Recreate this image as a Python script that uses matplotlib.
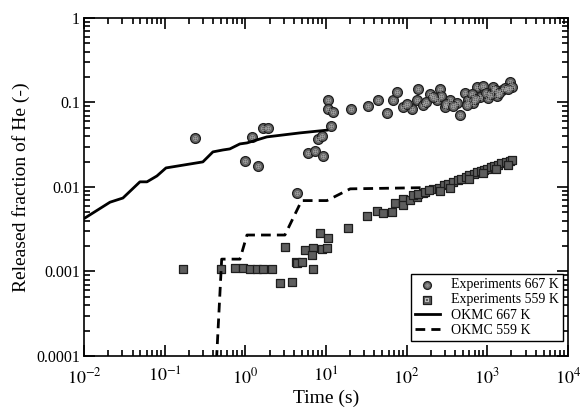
import numpy as np
import matplotlib
matplotlib.use('Agg')
import matplotlib.pyplot as plt
from matplotlib.ticker import LogLocator, NullFormatter, FixedFormatter, FixedLocator

plt.rcParams['font.family'] = 'Liberation Serif'
plt.rcParams['mathtext.fontset'] = 'stix'

# OKMC 667 K (solid)
okmc667_t = [0.0103, 0.021, 0.0304, 0.0494, 0.0604, 0.0803, 0.104, 0.298, 0.397, 0.528,
             0.644, 0.857, 1.05, 1.85, 4.75, 10.3]
okmc667_f = [0.0043, 0.0066, 0.0074, 0.0115, 0.0115, 0.0135, 0.0168, 0.0198, 0.026, 0.0274,
             0.0282, 0.0323, 0.0332, 0.0391, 0.0436, 0.047]

# OKMC 559 K (dashed)
okmc559_t = [0.44, 0.51, 0.86, 1.05, 3.1, 5.0, 10.3, 20.0, 150.0]
okmc559_f = [0.00009, 0.0014, 0.0014, 0.0027, 0.0027, 0.0069, 0.0069, 0.0095, 0.0098]

# experiments 667 K (circles)
exp667_t = [0.237, 0.99, 1.21, 1.43, 1.65, 1.91, 4.4, 5.97, 7.28, 9.16, 7.94, 8.9, 11.5,
            10.6, 10.6, 12.2, 20.4, 33.0, 44.0, 56.9, 67.5, 75.6, 89.8, 116, 138, 134,
            159, 194, 258, 237, 297, 343, 419, 456, 526, 573, 741, 880, 807, 1015, 1170,
            1312, 1513, 1901, 2013, 661, 557, 270, 310, 380, 640, 700, 960, 1100, 1250,
            1400, 1650, 1800, 100, 175, 215]
exp667_f = [0.038, 0.0203, 0.039, 0.0177, 0.050, 0.050, 0.0085, 0.0252, 0.0267, 0.0233,
            0.037, 0.040, 0.0527, 0.107, 0.0838, 0.0773, 0.0838, 0.0909, 0.107, 0.0751,
            0.107, 0.133, 0.0885, 0.0838, 0.144, 0.107, 0.0934, 0.126, 0.144, 0.107,
            0.0885, 0.107, 0.0986, 0.0711, 0.130, 0.107, 0.153, 0.157, 0.116, 0.113,
            0.153, 0.119, 0.141, 0.175, 0.153, 0.0986, 0.0934, 0.12, 0.097, 0.09, 0.125,
            0.11, 0.13, 0.125, 0.14, 0.13, 0.15, 0.145, 0.095, 0.1, 0.115]

# experiments 559 K (squares)
exp559_t = [0.169, 0.499, 0.743, 0.933, 1.14, 1.39, 1.65, 2.14, 2.69, 3.78, 3.10, 4.24,
            4.36, 5.02, 5.48, 6.89, 8.9, 10.3, 6.69, 8.4, 10.6, 6.89, 18.7, 32.1, 42.7,
            50.7, 65.6, 71.5, 89.8, 89.8, 110, 134, 159, 211, 120, 140, 170, 190, 250,
            290, 330, 380, 430, 480, 540, 600, 680, 750, 830, 920, 1000, 1100, 1200, 1350,
            1500, 1700, 1900, 2050, 260, 350, 600, 900, 1300, 1800]
exp559_f = [0.00107, 0.00107, 0.0011, 0.0011, 0.00107, 0.00107, 0.00107, 0.00107, 0.00073,
            0.00075, 0.00195, 0.00129, 0.00126, 0.00129, 0.0018, 0.0019, 0.00185, 0.0019,
            0.00157, 0.00285, 0.00249, 0.00107, 0.00327, 0.00454, 0.0052, 0.00492, 0.00506,
            0.00647, 0.00721, 0.00612, 0.00702, 0.00762, 0.0085, 0.00947, 0.0080, 0.0083,
            0.0088, 0.0092, 0.0098, 0.0105, 0.0108, 0.0115, 0.012, 0.0125, 0.013, 0.0137,
            0.0142, 0.015, 0.0155, 0.016, 0.0165, 0.017, 0.0175, 0.018, 0.019, 0.0195,
            0.0205, 0.021, 0.009, 0.0098, 0.0125, 0.0145, 0.0165, 0.018]

fig = plt.figure(figsize=(5.8, 4.17), dpi=100)
ax = fig.add_axes([0.1448, 0.1463, 0.8342, 0.8107])

c1 = ax.scatter(exp667_t, exp667_f, s=50, marker='o', facecolor='#666666', edgecolor='#1e1e1e',
                linewidth=0.9, zorder=3)
c2 = ax.scatter(exp667_t, exp667_f, s=11, marker=r'$\oplus$', color='#c4c4c4',
                linewidth=0, zorder=3.1)
s1 = ax.scatter(exp559_t, exp559_f, s=40, marker='s', facecolor='#5e5e5e', edgecolor='#1e1e1e',
                linewidth=0.9, zorder=3)
s2 = ax.scatter(exp559_t, exp559_f, s=8, marker=r'$\boxplus$', color='#bdbdbd',
                linewidth=0, zorder=3.1)
l1, = ax.plot(okmc667_t, okmc667_f, color='black', lw=2.0, zorder=4)
l2, = ax.plot(okmc559_t, okmc559_f, color='black', lw=2.0, ls=(0, (3.5, 2.2)), zorder=4)

ax.set_xscale('log')
ax.set_yscale('log')
ax.set_xlim(1e-2, 1e4)
ax.set_ylim(1e-4, 1)

xt = [1e-2, 1e-1, 1e0, 1e1, 1e2, 1e3, 1e4]
ax.xaxis.set_major_locator(FixedLocator(xt))
ax.xaxis.set_major_formatter(FixedFormatter([r'$10^{-2}$', r'$10^{-1}$', r'$10^{0}$',
                                             r'$10^{1}$', r'$10^{2}$', r'$10^{3}$', r'$10^{4}$']))
yt = [1e-4, 1e-3, 1e-2, 1e-1, 1]
ax.yaxis.set_major_locator(FixedLocator(yt))
ax.yaxis.set_major_formatter(FixedFormatter(['0.0001', '0.001', '0.01', '0.1', '1']))
for a in (ax.xaxis, ax.yaxis):
    a.set_minor_locator(LogLocator(base=10, subs=np.arange(2, 10), numticks=20))
    a.set_minor_formatter(NullFormatter())

ax.tick_params(which='both', direction='in', top=True, right=True, width=1.2)
ax.tick_params(which='major', length=8)
ax.tick_params(which='minor', length=4)
ax.tick_params(axis='x', labelsize=13, pad=8)
ax.tick_params(axis='y', labelsize=11.5, pad=3)
for sp in ax.spines.values():
    sp.set_linewidth(1.2)

ax.set_xlabel('Time (s)', fontsize=14, labelpad=2)
ax.set_ylabel('Released fraction of He (-)', fontsize=14, labelpad=4)

leg = ax.legend([(c1, c2), (s1, s2), l1, l2],
                ['Experiments 667 K', 'Experiments 559 K', 'OKMC 667 K', 'OKMC 559 K'],
                loc='lower right', bbox_to_anchor=(0.99, 0.045), fontsize=10,
                frameon=True, fancybox=False, edgecolor='black', framealpha=1,
                borderpad=0.3, labelspacing=0.15, handlelength=1.8, handletextpad=0.8,
                markerscale=0.8, borderaxespad=0.0)
leg.get_frame().set_linewidth(1.0)

fig.savefig('out.png', dpi=100)
